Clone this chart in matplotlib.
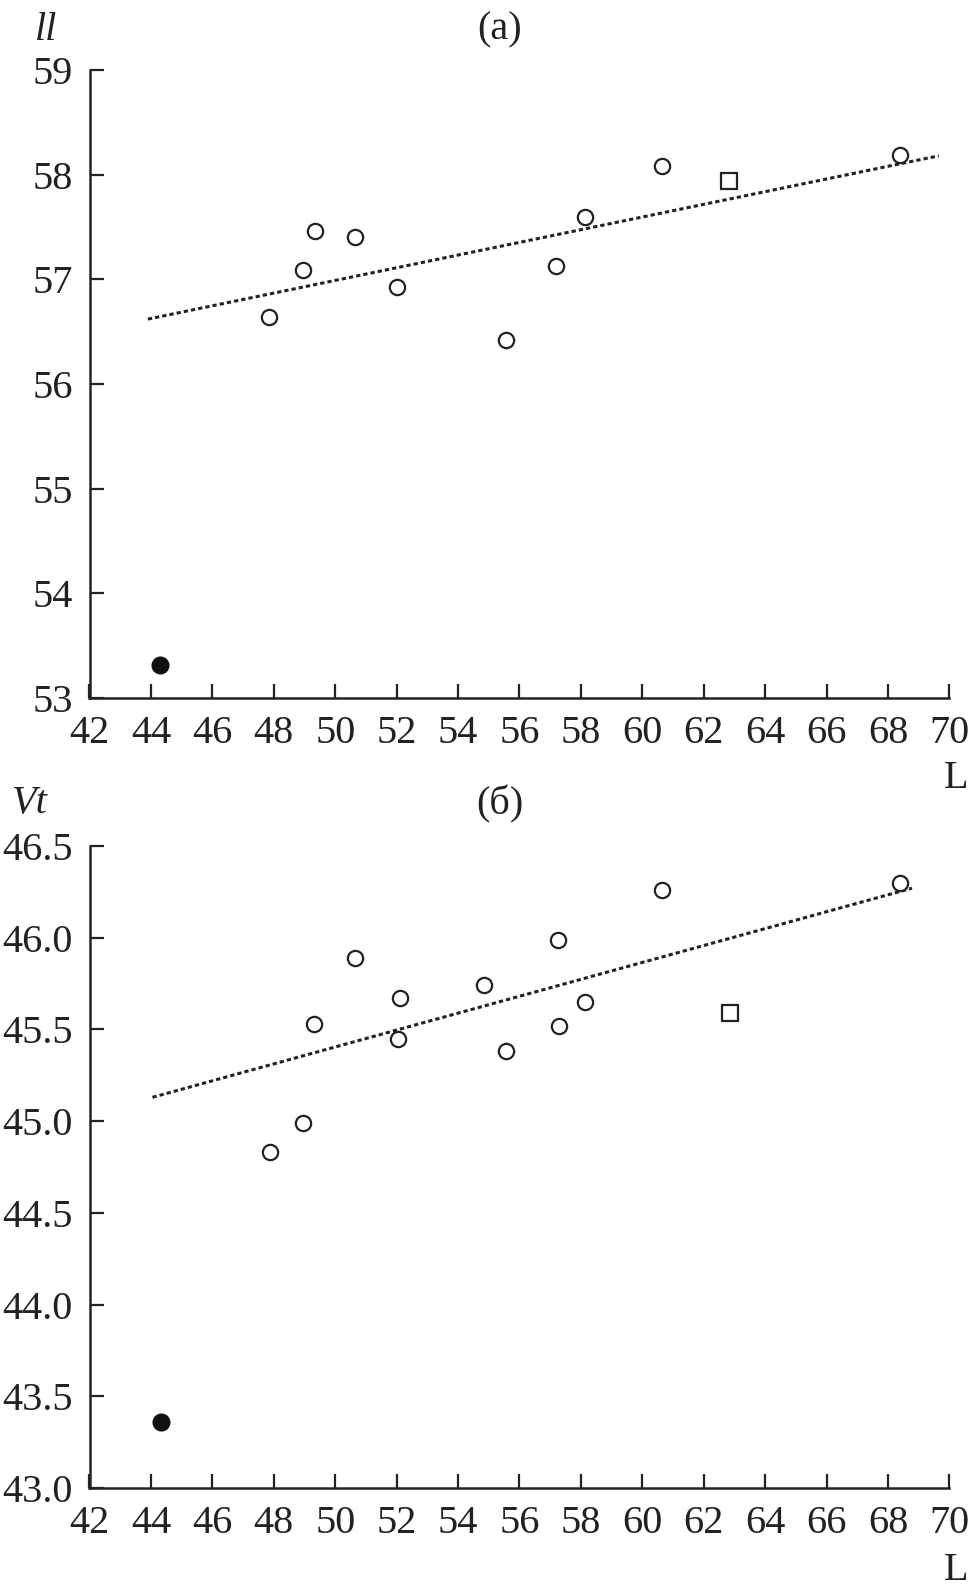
import matplotlib
matplotlib.use("Agg")
from matplotlib import pyplot as plt

plt.rcParams['font.family'] = ['Liberation Serif', 'DejaVu Serif']

# panel (a): ll vs L
L_a = [47.86, 48.96, 49.35, 50.66, 52.01, 55.57, 57.20, 58.12, 60.64, 68.40]
ll_a = [56.64, 57.09, 57.46, 57.40, 56.93, 56.42, 57.13, 57.60, 58.08, 58.19]
L_a_filled = [44.30]
ll_a_filled = [53.32]
L_a_square = [62.83]
ll_a_square = [57.94]
trend_a_x = [43.9, 69.65]
trend_a_y = [56.62, 58.18]

# panel (b): Vt vs L
L_b = [47.88, 48.96, 49.32, 50.63, 52.04, 52.11, 54.83, 55.56, 57.24, 57.27, 58.14, 60.64, 68.40]
vt_b = [44.83, 44.99, 45.53, 45.89, 45.45, 45.67, 45.74, 45.38, 45.99, 45.52, 45.65, 46.26, 46.30]
L_b_filled = [44.33]
vt_b_filled = [43.36]
L_b_square = [62.86]
vt_b_square = [45.59]
trend_b_x = [44.05, 68.78]
trend_b_y = [45.13, 46.27]

x_ticks = list(range(42, 71, 2))
y_ticks_a = [53, 54, 55, 56, 57, 58, 59]
y_ticks_b = [43.0, 43.5, 44.0, 44.5, 45.0, 45.5, 46.0, 46.5]

fig = plt.figure(figsize=(9.72, 15.94), dpi=100)
W, H = 972, 1594
ax_a = fig.add_axes([89.5 / W, 1 - 698 / H, 860 / W, 628 / H])
ax_b = fig.add_axes([89.5 / W, 1 - 1488 / H, 860 / W, 642 / H])

def style(ax, yticks, ylim, fmt):
    for s in ['top', 'right']:
        ax.spines[s].set_visible(False)
    for s in ['left', 'bottom']:
        ax.spines[s].set_linewidth(1.8)
        ax.spines[s].set_color('#222222')
    ax.set_xlim(42, 70)
    ax.set_ylim(*ylim)
    ax.set_xticks(x_ticks)
    ax.set_yticks(yticks)
    ax.set_yticklabels([fmt.format(v) for v in yticks])
    ax.tick_params(direction='in', length=10, width=1.6, labelsize=29,
                   colors='#222222', labelcolor='#222222')
    ax.tick_params(axis='x', pad=12)
    ax.tick_params(axis='y', pad=12)

def draw(ax, x, y, xf, yf, xs, ys, tx, ty):
    ax.plot(tx, ty, color='#222222', lw=2.2, linestyle=(0, (1.4, 1.0)), zorder=2)
    ax.plot(x, y, 'o', ms=11, mfc='white', mec='#222222', mew=1.6, zorder=3)
    ax.plot(xf, yf, 'o', ms=12, mfc='#111111', mec='#111111', zorder=3)
    ax.plot(xs, ys, 's', ms=11, mfc='white', mec='#222222', mew=1.6, zorder=3)

draw(ax_a, L_a, ll_a, L_a_filled, ll_a_filled, L_a_square, ll_a_square, trend_a_x, trend_a_y)
draw(ax_b, L_b, vt_b, L_b_filled, vt_b_filled, L_b_square, vt_b_square, trend_b_x, trend_b_y)
style(ax_a, y_ticks_a, (53, 59), '{:d}')
style(ax_b, y_ticks_b, (43.0, 46.5), '{:.1f}')
for ax in (ax_a, ax_b):
    ax.patch.set_alpha(0)
    for c in ax.get_children():
        c.set_clip_on(False)

fig.text(46 / W, 1 - 30 / H, 'll', style='italic', fontsize=29, ha='center', va='center', color='#222222')
fig.text(500 / W, 1 - 30 / H, '(a)', fontsize=29, ha='center', va='center', color='#222222')
fig.text(956 / W, 1 - 778 / H, 'L', fontsize=29, ha='center', va='center', color='#222222')
fig.text(30 / W, 1 - 804 / H, 'Vt', style='italic', fontsize=29, ha='center', va='center', color='#222222')
fig.text(500 / W, 1 - 804 / H, '(б)', fontsize=29, ha='center', va='center', color='#222222')
fig.text(956 / W, 1 - 1570 / H, 'L', fontsize=29, ha='center', va='center', color='#222222')

fig.savefig('out.png', dpi=100)
